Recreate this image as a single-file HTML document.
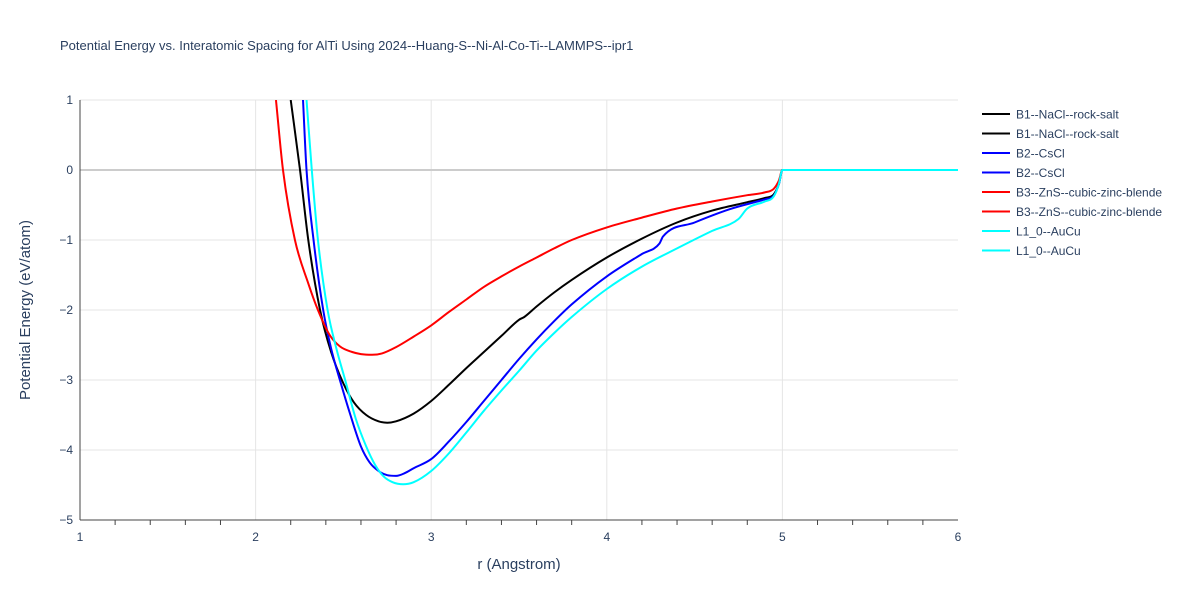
<!DOCTYPE html>
<html><head><meta charset="utf-8"><style>
body{margin:0;background:#fff;font-family:"Liberation Sans",sans-serif}
</style></head><body>
<svg id="chart" width="1200" height="600" xmlns="http://www.w3.org/2000/svg" font-family="Liberation Sans, sans-serif">
<rect width="1200" height="600" fill="#fff"/>
<text x="60" y="50" font-size="13" fill="#2a3f5f">Potential Energy vs. Interatomic Spacing for AlTi Using 2024--Huang-S--Ni-Al-Co-Ti--LAMMPS--ipr1</text>
<g id="grid"></g><g id="axes"></g>
<clipPath id="clip"><rect x="80" y="100" width="878" height="420"/></clipPath>
<g id="series" clip-path="url(#clip)"></g>
<g id="legend"></g>
<text x="519" y="569" font-size="15" fill="#2a3f5f" text-anchor="middle">r (Angstrom)</text>
<text x="30" y="310" font-size="15" fill="#2a3f5f" text-anchor="middle" transform="rotate(-90 30 310)">Potential Energy (eV/atom)</text>
</svg>
<script>
const xTicks=[1,2,3,4,5,6];
const yTicks=[1,0,-1,-2,-3,-4,-5];
const seriesNames=["B1--NaCl--rock-salt","B2--CsCl","B3--ZnS--cubic-zinc-blende","L1_0--AuCu"];
const seriesColors=["#000000","#0000ff","#ff0000","#00ffff"];
const b1R=[2.2,2.253,2.3,2.367,2.43,2.5,2.56,2.63,2.7,2.75,2.8,2.9,3.0,3.1,3.2,3.3,3.4,3.5,3.53,3.6,3.7,3.8,4.0,4.2,4.4,4.6,4.8,4.9,4.95,4.98,5.0,6.0];
const b1E=[1,0,-1,-2,-2.6,-3.05,-3.32,-3.5,-3.59,-3.61,-3.59,-3.48,-3.3,-3.07,-2.83,-2.6,-2.37,-2.14,-2.1,-1.95,-1.75,-1.57,-1.25,-0.98,-0.75,-0.58,-0.46,-0.4,-0.35,-0.2,0,0];
const b2R=[2.27,2.29,2.33,2.385,2.43,2.48,2.54,2.6,2.65,2.7,2.75,2.8,2.85,2.9,3.0,3.1,3.2,3.3,3.4,3.5,3.6,3.7,3.8,4.0,4.2,4.3,4.32,4.5,4.7,4.9,4.95,4.98,5.0,6.0];
const b2E=[1,0,-1,-2,-2.55,-3,-3.5,-3.95,-4.18,-4.3,-4.36,-4.37,-4.33,-4.26,-4.13,-3.88,-3.6,-3.3,-3.0,-2.7,-2.42,-2.16,-1.92,-1.52,-1.2,-1.05,-0.95,-0.75,-0.56,-0.42,-0.37,-0.2,0,0];
const b3R=[2.116,2.156,2.224,2.3,2.355,2.42,2.48,2.55,2.6,2.663,2.72,2.8,2.9,3.0,3.1,3.2,3.3,3.4,3.5,3.6,3.7,3.8,4.0,4.2,4.4,4.6,4.8,4.9,4.95,4.98,5.0,6.0];
const b3E=[1,0,-1,-1.62,-2,-2.35,-2.52,-2.6,-2.63,-2.64,-2.62,-2.53,-2.38,-2.22,-2.03,-1.85,-1.67,-1.52,-1.38,-1.25,-1.12,-1.0,-0.82,-0.68,-0.55,-0.45,-0.36,-0.32,-0.27,-0.15,0,0];
const l10R=[2.29,2.32,2.355,2.41,2.46,2.51,2.57,2.63,2.68,2.73,2.78,2.84,2.9,3.0,3.1,3.2,3.3,3.4,3.5,3.6,3.7,3.8,4.0,4.2,4.4,4.6,4.75,4.8,4.9,4.95,4.98,5.0,6.0];
const l10E=[1,0,-1,-2,-2.55,-3,-3.55,-3.95,-4.21,-4.38,-4.46,-4.49,-4.46,-4.3,-4.05,-3.75,-3.44,-3.15,-2.87,-2.58,-2.33,-2.1,-1.7,-1.38,-1.12,-0.87,-0.7,-0.55,-0.45,-0.38,-0.2,0,0];
const X=r=>80+(r-1)*175.6, Y=e=>100+(1-e)*70;
const NS="http://www.w3.org/2000/svg";
function mk(t,a,p){const e=document.createElementNS(NS,t);for(const k in a)e.setAttribute(k,a[k]);p.appendChild(e);return e;}
const grid=document.getElementById('grid'),axes=document.getElementById('axes');
xTicks.forEach(v=>{
 if(v>1&&v<6){const l=mk('line',{x1:X(v),x2:X(v),y1:100,y2:520,stroke:'#e5e5e5','stroke-width':1},grid);
 
 }
 const t=mk('text',{x:X(v),y:541,'font-size':12,fill:'#2a3f5f','text-anchor':'middle'},axes);t.textContent=v;
 
 
});
for(let v=1.2;v<6;v+=0.2){if(Math.abs(v-Math.round(v))<0.01)continue;mk('line',{x1:X(v),x2:X(v),y1:520,y2:525,stroke:'#444','stroke-width':1},axes);}
yTicks.forEach(v=>{
 const l=mk('line',{x1:80,x2:958,y1:Y(v),y2:Y(v),stroke:v===0?'#cccccc':'#e5e5e5','stroke-width':v===0?2:1},grid);
 
 
 const t=mk('text',{x:73,y:Y(v)+4,'font-size':12,fill:'#2a3f5f','text-anchor':'end'},axes);t.textContent=(v<0?'\u2212'+(-v):v);
 
 
});
mk('line',{x1:80,x2:80,y1:100,y2:520,stroke:'#444'},axes);
mk('line',{x1:80,x2:958,y1:520,y2:520,stroke:'#444'},axes);
// monotone cubic (Fritsch-Carlson) to avoid overshoot
function path(R,E){
 const xs=R.map(X),ys=E.map(Y),n=xs.length,d=[],m=new Array(n);
 for(let i=0;i<n-1;i++)d.push((ys[i+1]-ys[i])/(xs[i+1]-xs[i]));
 m[0]=d[0];m[n-1]=d[n-2];
 for(let i=1;i<n-1;i++)m[i]=(d[i-1]*d[i]<=0)?0:(d[i-1]+d[i])/2;
 for(let i=0;i<n-1;i++){if(d[i]===0){m[i]=0;m[i+1]=0;continue;}
  const a=m[i]/d[i],b=m[i+1]/d[i],s=a*a+b*b;if(s>9){const t=3/Math.sqrt(s);m[i]=t*a*d[i];m[i+1]=t*b*d[i];}}
 let s='M'+xs[0]+','+ys[0];
 for(let i=0;i<n-1;i++){const h=(xs[i+1]-xs[i])/3;
  s+=` C${xs[i]+h},${ys[i]+m[i]*h} ${xs[i+1]-h},${ys[i+1]-m[i+1]*h} ${xs[i+1]},${ys[i+1]}`;}
 return s;}
const data=[[b1R,b1E],[b2R,b2E],[b3R,b3E],[l10R,l10E]];
const sg=document.getElementById('series'),lg=document.getElementById('legend');
data.forEach((s,i)=>{
 const p=mk('path',{d:path(s[0],s[1]),fill:'none',stroke:seriesColors[i],'stroke-width':2},sg);
 
 
 for(let k=0;k<2;k++){const y=114+(i*2+k)*19.5;
  const g=mk('g',{},lg);
  
  
  mk('line',{x1:982,x2:1010,y1:y,y2:y,stroke:seriesColors[i],'stroke-width':2},g);
  const t=mk('text',{x:1016,y:y+4.5,'font-size':12,fill:'#2a3f5f'},g);t.textContent=seriesNames[i];}
});
</script>
</body></html>
